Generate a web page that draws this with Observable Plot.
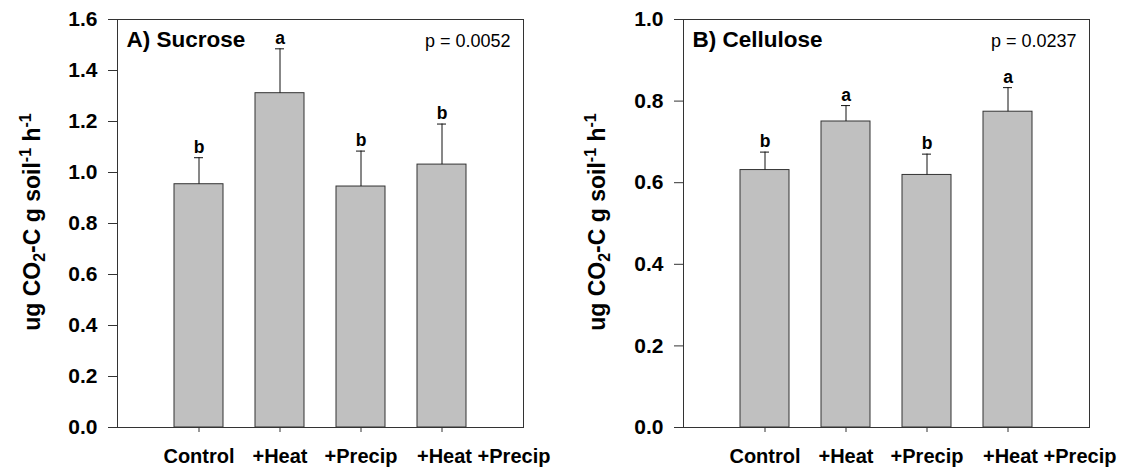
<!DOCTYPE html>
<html>
<head>
<meta charset="utf-8">
<script src="https://cdn.jsdelivr.net/npm/d3@7"></script>
<script src="https://cdn.jsdelivr.net/npm/@observablehq/plot@0.6"></script>
<style>
  html, body { margin: 0; padding: 0; background: #fff; }
  #wrap { display: flex; flex-direction: row; width: 1130px; height: 472px; }
</style>
</head>
<body>
<div id="wrap"></div>
<script>
// ---- data ----
const categories = ["Control", "+Heat", "+Precip", "+Heat +Precip"];

const sucroseMean = [0.954, 1.311, 0.945, 1.031];
const sucroseSE = [0.104, 0.174, 0.139, 0.159];
const sucroseLetters = ["b", "a", "b", "b"];
const sucroseTicks = [0, 0.2, 0.4, 0.6, 0.8, 1.0, 1.2, 1.4, 1.6];

const celluloseMean = [0.631, 0.750, 0.619, 0.774];
const celluloseSE = [0.044, 0.039, 0.051, 0.059];
const celluloseLetters = ["b", "a", "b", "a"];
const celluloseTicks = [0, 0.2, 0.4, 0.6, 0.8, 1.0];

const panelTitles = ["A) Sucrose", "B) Cellulose"];
const pValues = ["p = 0.0052", "p = 0.0237"];

const FONT = "'Liberation Sans', Arial, Helvetica, sans-serif";

function panel(title, pText, mean, se, letters, ticks, marginLeft) {
  const data = categories.map((c, i) => ({
    cat: c, mean: mean[i], top: mean[i] + se[i], letter: letters[i]
  }));
  const last = categories.length - 1;
  const chart = Plot.plot({
    width: 565,
    height: 472,
    marginLeft: marginLeft,
    marginRight: 565 - marginLeft - 406,
    marginTop: 19,
    marginBottom: 45,
    style: { fontFamily: FONT, background: "#fff", color: "#000", overflow: "visible" },
    x: { type: "band", domain: categories, paddingInner: 0.4, paddingOuter: 0.7, axis: null },
    y: { type: "linear", domain: [0, ticks[ticks.length - 1]], axis: null },
    marks: [
      Plot.barY(data, { x: "cat", y: "mean", fill: "#c0c0c0", stroke: "#333", strokeWidth: 1 }),
      Plot.ruleX(data, { x: "cat", y1: "mean", y2: "top", stroke: "#111", strokeWidth: 1 }),
      Plot.tickY(data, { x: "cat", y: "top", insetLeft: 20, insetRight: 20, stroke: "#111", strokeWidth: 1 }),
      Plot.text(data, { x: "cat", y: "top", text: "letter", lineAnchor: "bottom", dy: -5,
        fontSize: 17.5, fontWeight: "bold", fill: "#000" }),
      Plot.frame({ stroke: "#333", strokeWidth: 1 }),
      Plot.axisY({ ticks: ticks, tickFormat: d => d.toFixed(1), tickSize: 9, tickPadding: 11,
        fontSize: 21, fontWeight: "bold", label: null, stroke: "#333" }),
      Plot.axisX({ tickSize: 5, tickFormat: () => "", label: null, stroke: "#333" }),
      Plot.text(data.slice(0, last), { x: "cat", y: 0, text: "cat", lineAnchor: "middle", dy: 29,
        fontSize: 20, fontWeight: "bold", fill: "#000" }),
      Plot.text(data.slice(last), { x: "cat", y: 0, text: "cat", lineAnchor: "middle", dy: 29,
        dx: -25, textAnchor: "start", fontSize: 20, fontWeight: "bold", fill: "#000" }),
      Plot.text([title], { frameAnchor: "top-left", textAnchor: "start", lineAnchor: "top",
        dx: 9, dy: 12, fontSize: 22.5, fontWeight: "bold", fill: "#000" }),
      Plot.text([pText], { frameAnchor: "top-right", textAnchor: "end", lineAnchor: "top",
        dx: -13, dy: 15, fontSize: 18, fill: "#000" })
    ]
  });
  // y-axis title with sub/superscripts
  const svg = d3.select(chart);
  const t = svg.append("text")
    .attr("transform", `translate(40,222) rotate(-90)`)
    .attr("text-anchor", "middle")
    .attr("font-family", FONT)
    .attr("font-size", 23)
    .attr("font-weight", "bold")
    .attr("fill", "#000");
  t.append("tspan").text("ug CO");
  t.append("tspan").attr("font-size", 16).attr("dy", 5).text("2");
  t.append("tspan").attr("dy", -5).text("-C g soil");
  t.append("tspan").attr("font-size", 16).attr("dy", -9).text("-1");
  t.append("tspan").attr("dy", 9).text(" h");
  t.append("tspan").attr("font-size", 16).attr("dy", -9).text("-1");
  return chart;
}

const wrap = document.getElementById("wrap");
wrap.appendChild(panel(panelTitles[0], pValues[0], sucroseMean, sucroseSE, sucroseLetters, sucroseTicks, 117));
wrap.appendChild(panel(panelTitles[1], pValues[1], celluloseMean, celluloseSE, celluloseLetters, celluloseTicks, 118));
</script>
</body>
</html>
